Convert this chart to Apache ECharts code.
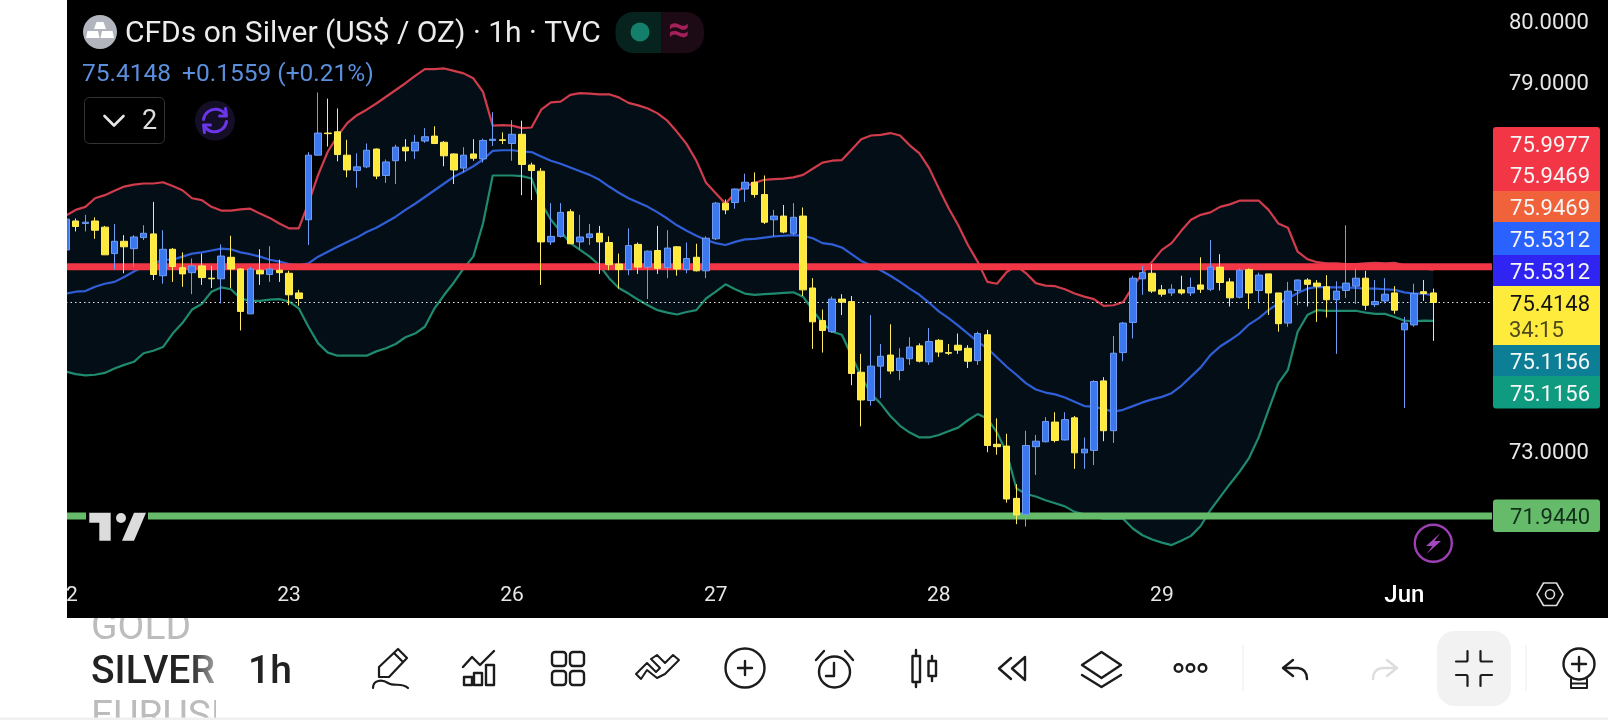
<!DOCTYPE html>
<html>
<head>
<meta charset="utf-8">
<title>CFDs on Silver</title>
<script src="https://cdn.jsdelivr.net/npm/echarts@6/dist/echarts.min.js"></script>
<style>html,body{margin:0;padding:0;background:#000}#chart{width:1608px;height:720px}</style>
</head>
<body>
<div id="chart"></div>
<script>
// Hourly silver candles
const opens = [
76.27,76.74,76.70,76.74,76.64,76.21,76.41,76.29,76.47,76.53,
75.85,76.28,75.98,75.90,76.01,75.81,75.80,76.15,75.96,75.23,
75.94,75.87,75.94,75.89,75.57,76.76,77.81,78.17,78.19,77.81,
77.56,77.62,77.91,77.48,77.72,77.94,77.88,78.04,78.12,78.02,
77.83,77.60,77.83,77.75,78.05,78.06,78.00,78.15,77.65,77.55,
76.40,76.49,76.89,76.40,76.47,76.54,76.39,76.04,75.95,76.36,
75.99,76.26,75.98,76.32,75.95,76.15,75.93,76.45,77.03,77.04,
77.26,77.37,77.17,76.76,76.82,76.54,76.82,75.65,75.12,74.94,
75.47,75.43,74.28,73.82,74.38,74.56,74.31,74.50,74.71,74.45,
74.80,74.60,74.72,74.67,74.47,74.89,73.11,73.08,72.23,71.97,
73.07,73.15,73.47,73.18,73.54,72.97,73.01,74.14,73.33,74.60,
75.09,75.80,75.89,75.62,75.57,75.62,75.57,75.70,75.63,75.99,
75.75,75.50,75.95,75.61,75.88,75.57,75.08,75.61,75.78,75.73,
75.67,75.46,75.61,75.68,75.81,75.38,75.44,75.57,74.97,75.05,
75.59,75.57];
const closes = [
76.77,76.65,76.72,76.59,76.19,76.41,76.32,76.48,76.54,75.87,
76.28,76.00,75.88,76.01,75.82,75.80,76.17,75.96,75.27,75.96,
75.88,75.96,75.90,75.54,75.48,77.81,78.17,78.16,77.82,77.57,
77.62,77.89,77.47,77.70,77.94,77.88,78.02,78.11,78.00,77.80,
77.57,77.81,77.76,78.05,78.07,78.05,78.15,77.66,77.56,76.40,
76.49,76.88,76.37,76.48,76.53,76.40,76.03,75.95,76.34,75.99,
76.25,75.97,76.30,75.96,76.13,75.93,76.46,77.03,76.92,77.26,
77.37,77.17,76.72,76.82,76.56,76.80,75.62,75.10,74.96,75.47,
75.42,74.26,73.83,74.38,74.54,74.30,74.51,74.69,74.46,74.78,
74.61,74.59,74.64,74.46,74.91,73.09,73.07,72.22,71.96,73.09,
73.16,73.48,73.17,73.51,72.97,73.03,74.13,73.33,74.59,75.08,
75.81,75.90,75.60,75.55,75.63,75.57,75.66,75.63,75.99,75.74,
75.49,75.94,75.57,75.86,75.57,75.07,75.60,75.78,75.71,75.68,
75.46,75.60,75.73,75.81,75.37,75.43,75.55,75.29,75.08,75.56,
75.56,75.4148];
const lows = [
76.24,76.57,76.57,76.45,76.19,75.95,75.89,75.99,76.43,75.78,
75.72,75.75,75.67,75.55,75.70,75.65,75.40,75.65,74.96,75.23,
75.70,75.75,75.75,75.37,75.36,76.35,77.81,77.95,77.71,77.45,
77.28,77.60,77.42,77.36,77.34,77.71,77.75,78.01,77.99,77.63,
77.34,77.53,77.72,77.69,77.96,77.99,77.72,77.16,77.08,75.70,
76.35,76.47,76.37,76.28,76.35,75.88,75.94,75.64,75.86,75.88,
75.47,75.88,75.81,75.85,75.89,75.92,75.81,76.43,76.85,76.94,
77.05,77.12,76.69,76.49,76.54,76.51,75.52,74.66,74.60,74.92,
75.21,74.07,73.40,73.74,73.86,74.25,74.15,74.40,74.44,74.40,
74.53,74.56,74.58,74.35,74.40,72.98,72.94,72.16,71.81,71.77,
72.61,73.14,73.14,73.17,72.71,72.71,72.77,73.16,73.13,74.46,
74.83,75.54,75.57,75.51,75.52,75.54,75.52,75.57,75.60,75.61,
75.35,75.48,75.31,75.42,75.21,74.94,75.02,75.37,75.35,75.10,
75.17,74.58,75.49,75.39,75.29,75.34,75.40,75.23,73.70,75.02,
75.44,74.79];
const highs = [
76.80,76.78,76.84,76.80,76.66,76.69,76.51,76.51,76.67,77.05,
76.59,76.30,76.23,76.13,76.21,76.01,76.36,76.50,75.97,75.99,
76.28,76.33,76.11,75.93,75.62,77.86,78.83,78.73,78.57,78.06,
77.84,78.00,77.92,77.74,77.98,78.07,78.14,78.25,78.28,78.04,
77.84,77.94,78.07,78.08,78.51,78.18,78.38,78.37,77.69,77.60,
77.03,77.03,76.93,76.84,76.69,76.66,76.49,76.21,76.62,76.39,
76.26,76.66,76.59,76.33,76.39,76.37,76.49,77.05,77.09,77.27,
77.51,77.53,77.48,76.92,77.00,77.03,76.96,75.81,75.30,75.51,
75.55,75.52,74.58,75.21,74.74,75.06,74.67,74.85,74.75,75.00,
74.82,74.74,74.91,74.72,74.94,74.97,73.53,73.28,72.46,73.33,
73.26,73.55,73.63,73.63,73.57,73.22,74.15,74.20,74.87,75.10,
75.85,76.01,76.04,75.70,75.71,75.85,75.82,76.15,76.43,76.20,
75.81,75.97,75.97,75.90,75.88,75.57,75.75,75.79,75.81,75.78,
75.86,75.76,76.67,75.97,75.93,75.78,75.81,75.68,75.18,75.72,
75.78,75.64];

// Bollinger bands, one reading per candle
const bbUpper = [
76.83,76.92,76.97,77.11,77.16,77.23,77.30,77.33,77.35,77.35,
77.37,77.31,77.24,77.11,77.08,76.97,76.91,76.91,76.93,76.94,
76.86,76.79,76.70,76.62,76.62,77.03,77.49,77.87,78.12,78.33,
78.46,78.55,78.65,78.76,78.87,78.98,79.10,79.21,79.21,79.22,
79.18,79.14,79.06,78.84,78.29,78.30,78.29,78.25,78.26,78.55,
78.67,78.68,78.79,78.82,78.81,78.80,78.80,78.75,78.66,78.62,
78.57,78.49,78.37,78.19,77.99,77.72,77.36,77.19,77.02,77.20,
77.30,77.36,77.41,77.42,77.43,77.45,77.49,77.59,77.69,77.72,
77.73,77.90,78.07,78.13,78.14,78.17,78.13,77.97,77.84,77.60,
77.27,76.95,76.67,76.35,76.08,75.75,75.72,75.91,76.01,75.89,
75.73,75.69,75.68,75.63,75.56,75.51,75.47,75.36,75.37,75.42,
75.67,75.89,76.08,76.27,76.38,76.58,76.76,76.84,76.88,76.97,
77.01,77.07,77.07,77.07,76.92,76.70,76.63,76.24,76.12,76.07,
76.05,76.05,76.04,76.04,76.05,76.06,76.05,76.06,76.02,76.01,
75.97,75.9469];
const bbBasis = [
75.56,75.59,75.60,75.67,75.72,75.75,75.83,75.92,76.00,76.05,
76.11,76.11,76.16,76.21,76.23,76.26,76.29,76.28,76.23,76.20,
76.16,76.11,76.08,76.04,76.02,76.05,76.16,76.24,76.32,76.40,
76.47,76.56,76.63,76.72,76.81,76.92,77.02,77.13,77.24,77.35,
77.46,77.54,77.63,77.74,77.88,77.89,77.89,77.87,77.86,77.79,
77.72,77.67,77.61,77.55,77.49,77.41,77.30,77.20,77.11,77.04,
76.97,76.88,76.78,76.67,76.58,76.50,76.43,76.38,76.35,76.40,
76.44,76.45,76.47,76.49,76.50,76.51,76.50,76.46,76.38,76.36,
76.31,76.20,76.09,76.02,75.94,75.85,75.75,75.64,75.54,75.41,
75.27,75.16,75.04,74.91,74.78,74.67,74.52,74.37,74.24,74.10,
74.00,73.95,73.92,73.87,73.80,73.73,73.72,73.68,73.64,73.67,
73.73,73.79,73.84,73.88,73.94,74.06,74.21,74.36,74.56,74.70,
74.80,74.91,75.06,75.16,75.29,75.40,75.48,75.57,75.64,75.67,
75.66,75.66,75.66,75.65,75.64,75.64,75.63,75.62,75.58,75.56,
75.56,75.5312];
const bbLower = [
74.29,74.25,74.23,74.24,74.27,74.34,74.40,74.45,74.59,74.63,
74.69,74.91,75.08,75.30,75.39,75.59,75.66,75.63,75.48,75.44,
75.44,75.46,75.47,75.43,75.32,75.02,74.75,74.60,74.55,74.55,
74.55,74.55,74.62,74.67,74.74,74.85,74.91,75.02,75.32,75.54,
75.74,75.97,76.16,76.70,77.48,77.48,77.48,77.47,77.43,77.03,
76.76,76.57,76.38,76.27,76.16,76.02,75.81,75.65,75.56,75.46,
75.37,75.29,75.25,75.22,75.26,75.29,75.48,75.59,75.71,75.63,
75.56,75.54,75.55,75.56,75.57,75.58,75.51,75.29,75.08,74.94,
74.89,74.55,74.21,73.93,73.77,73.57,73.41,73.30,73.22,73.22,
73.26,73.32,73.38,73.50,73.60,73.53,73.30,72.97,72.39,72.30,
72.26,72.20,72.15,72.10,72.01,71.97,71.93,71.90,71.90,71.90,
71.74,71.63,71.56,71.51,71.47,71.54,71.62,71.78,72.04,72.25,
72.46,72.66,72.89,73.23,73.67,74.10,74.32,74.94,75.21,75.29,
75.28,75.28,75.28,75.28,75.25,75.23,75.23,75.18,75.12,75.11,
75.12,75.1156];

// Horizontal levels and last price
const resistanceLevel = 75.9977;
const supportLevel = 71.9440;
const lastPrice = 75.4148;

// Axis ticks
const yTickValues = [80, 79, 73];
const xTickValues = [0, 23, 46, 67, 90, 113, 138];
const xTickLabels = ['22', '23', '26', '27', '28', '29', 'Jun'];

// Price tags down the right edge, top to bottom
const tagTexts = ['75.9977', '75.9469', '75.9469', '75.5312', '75.5312', '75.4148', '75.1156', '75.1156'];
const countdownText = '34:15';
const supportTagText = '71.9440';

const FONT = 'Roboto';
const X_MIN = -0.928, X_MAX = 147.04;

// The graphic component has no generic path type, so each icon outline is registered as a shape
let shapeCount = 0;
function pathShape(d) {
  const name = 'iconPath' + (shapeCount++);
  echarts.graphic.registerShape(name, echarts.graphic.extendPath(d));
  return name;
}

function text(str, x, y, size, fill, extra) {
  return {
    type: 'text', x, y, z: 110,
    style: Object.assign({ text: str, fill, font: `${size}px ${FONT}`, textAlign: 'left', textVerticalAlign: 'middle' }, extra || {})
  };
}
function rect(x, y, w, h, fill, r, z) {
  return { type: 'rect', z: z || 105, shape: { x, y, width: w, height: h, r: r || 0 }, style: { fill } };
}
function stroke(d, color, width, x, y, z) {
  return {
    type: pathShape(d), x: x || 0, y: y || 0, z: z || 110,
    style: { fill: 'none', stroke: color, lineWidth: width || 2.4, lineJoin: 'round', lineCap: 'round' }
  };
}
function solid(d, color, z) {
  return { type: pathShape(d), z: z || 110, style: { fill: color } };
}
function ring(cx, cy, r, color, width, fill, z) {
  return { type: 'circle', z: z || 110, shape: { cx, cy, r }, style: { fill: fill || 'none', stroke: color, lineWidth: width || 0 } };
}

const INK = '#1c1c1c';
const elements = [
  // Page margin and bottom toolbar background
  rect(0, 0, 67, 720, '#ffffff', 0, 100),
  rect(0, 618, 1608, 102, '#ffffff', 0, 100),

  // Symbol picker
  text('GOLD', 91, 629, 39, '#bcbcbc', { font: `400 39px ${FONT}` }),
  text('EURUSD', 91, 718, 39, '#bcbcbc', { font: `400 39px ${FONT}` }),
  rect(80, 590, 160, 28, '#000000', 0, 111),
  rect(216, 618, 28, 100, '#ffffff', 0, 111),
  rect(0, 717.6, 1608, 2.4, '#f0f0f0', 0, 111),
  text('SILVER', 91, 673, 39, '#222222', { font: `500 39px ${FONT}` }),
  {
    type: 'rect', z: 112, shape: { x: 190, y: 640, width: 26, height: 56 },
    style: { fill: { type: 'linear', x: 0, y: 0, x2: 1, y2: 0, colorStops: [{ offset: 0, color: 'rgba(255,255,255,0)' }, { offset: 1, color: 'rgba(255,255,255,0.6)' }] } }
  },
  text('1h', 248, 673, 39, '#222222', { font: `500 39px ${FONT}` }),

  // Toolbar icons
  stroke('M379 677 L379 667 L398 649 L407 658 L389 677 Z M394 653 L403 662', INK, 2.2),
  stroke('M373 688 C373 680 382 679 388 683 C394 687 402 682 408 688', INK, 2.2),
  stroke('M463 667 L472 657 L480 665 L494 651', INK, 2.4),
  stroke('M464 677 H472 V685 H464 Z M474 673 H482 V685 H474 Z M486 665 H494 V685 H486 Z', INK, 2.4),
  ...[[552, 652], [570, 652], [552, 671], [570, 671]].map(([x, y]) => ({
    type: 'rect', z: 110, shape: { x, y, width: 14, height: 14, r: 3 }, style: { fill: 'none', stroke: INK, lineWidth: 2.4 }
  })),
  stroke('M636 674 L647 663 L656 672 L660 668 L651 659 L657 655 L665 663 L673 655 L679 660 L665 674 L657 678 L647 670 L641 679 Z', INK, 2),
  ring(745, 668, 19.5, INK, 2.4),
  stroke('M738 668 H752 M745 661 V675', INK, 2.4),
  ring(834.5, 672, 15.5, INK, 2.4),
  stroke('M834 663 V676 H826 M816 660 L824 651 M853 660 L845 651', INK, 2.4),
  stroke('M912.5 656 H920 V682 H912.5 Z M916 650 V656 M916 682 V687 M928.5 661 H936 V676 H928.5 Z M932 656 V661 M932 676 V681', INK, 2.4),
  stroke('M1011 658 L999 668.5 L1011 679 M1025 657 L1012 668.5 L1025 680 Z', INK, 2.4),
  stroke('M1101.5 652 L1121 665 L1101.5 678 L1082 665 Z M1082 675 L1101.5 687 L1121 675', INK, 2.4),
  ring(1178.5, 668, 3.8, INK, 2.4),
  ring(1190.5, 668, 3.8, INK, 2.4),
  ring(1202.5, 668, 3.8, INK, 2.4),
  rect(1242.5, 645, 1, 46, '#eeeeee', 0, 110),
  stroke('M1293 660 L1283 668 L1293 676 M1283 668 H1298 Q1307 669 1307 679', INK, 2.4),
  stroke('M1387 660 L1397 668 L1387 676 M1397 668 H1382 Q1373 669 1373 679', '#dddddd', 2.4),
  rect(1437, 631, 74, 75, '#f2f2f2', 18, 106),
  stroke('M1456 661.5 H1466 Q1467.5 661.5 1467.5 660 V651 M1492 661.5 H1482 Q1480.5 661.5 1480.5 660 V651 M1456 675 H1466 Q1467.5 675 1467.5 676.5 V686 M1492 675 H1482 Q1480.5 675 1480.5 676.5 V686', INK, 2.2),
  rect(1525.5, 645, 1, 46, '#eeeeee', 0, 110),
  ring(1579, 664, 15.5, INK, 2.4),
  stroke('M1572 664 H1586 M1579 657 V671', INK, 2.4),
  stroke('M1571 679 V688 H1587 V679 M1571 683.5 H1587', INK, 2),

  // Symbol logo beside the title
  ring(100, 32, 17, null, 0, '#b2b5be'),
  solid('M96.5 22 H103.5 L106 29 H94 Z M87.5 31 H98 L99.5 38 H86 Z M102 31 H112.5 L114 38 H100.5 Z', '#ffffff'),

  // Market status pill
  { type: 'rect', z: 110, shape: { x: 615.5, y: 12, width: 46, height: 41, r: [18, 0, 0, 18] }, style: { fill: '#06231d' } },
  { type: 'rect', z: 110, shape: { x: 661.5, y: 12, width: 42.5, height: 41, r: [0, 18, 18, 0] }, style: { fill: '#1c0a14' } },
  ring(640, 32, 9.5, null, 0, '#14806c'),
  text('\u2248', 668, 32, 38, '#a3205a', { font: `700 38px ${FONT}` }),

  // Last quote
  text('75.4148', 82, 75, 24.5, '#5b8fdc'),
  text('+0.1559 (+0.21%)', 182, 75, 24.5, '#5b8fdc'),

  // Indicator collapse button
  { type: 'rect', z: 110, shape: { x: 84.5, y: 97.5, width: 80, height: 46, r: 5 }, style: { fill: '#000', stroke: '#333333', lineWidth: 1 } },
  stroke('M104.5 116 L114 125.5 L123.5 116', '#e6e6e6', 2.6),
  text('2', 142, 122, 27, '#dddddd'),

  // Refresh badge
  ring(215, 120.5, 20, null, 0, '#140f26'),
  stroke('M-11.5 -1 A12 12 0 0 1 10 -6.5 M11.5 1 A12 12 0 0 1 -10 6.5', '#6a37e8', 3, 215, 120.5),
  stroke('M10.5 -12 L11.5 -4.5 L4.5 -4.5 M-10.5 12 L-11.5 4.5 L-4.5 4.5', '#6a37e8', 3, 215, 120.5),

  // Watermark, cut out of the support line
  rect(86, 509, 62, 34, '#000000', 0, 106),
  solid('M89.3 512.7 H110.7 V540.7 H99.3 V522.7 H89.3 Z M134 512.7 H146 L134 540.7 H122 Z', '#dcdcdc'),
  ring(121, 518, 5, null, 0, '#dcdcdc'),

  // Lightning and settings icons
  ring(1433.3, 543.3, 18.5, '#9c3fb3', 2.4),
  solid('M1440.5 533 L1426 546 L1432.5 546 L1426.5 554 L1441 541 L1434.5 541 Z', '#a347bd'),
  stroke('M1537 594.3 L1543.5 583 H1556.5 L1563 594.3 L1556.5 605.5 H1543.5 Z', '#dddddd', 1.6),
  ring(1550, 594.3, 4.5, '#dddddd', 1.6),

  // Price tags
  { type: 'rect', z: 105, shape: { x: 1493, y: 127, width: 107, height: 64, r: [3, 3, 0, 0] }, style: { fill: '#f23645' } },
  rect(1493, 191, 107, 31, '#f0623a', 0),
  rect(1493, 222, 107, 33, '#2962ff', 0),
  rect(1493, 255, 107, 31, '#3024f2', 0),
  rect(1493, 286, 107, 59, '#ffeb3b', 0),
  rect(1493, 345, 107, 31, '#0c7f96', 0),
  { type: 'rect', z: 105, shape: { x: 1493, y: 376, width: 107, height: 32.5, r: [0, 0, 3, 3] }, style: { fill: '#0f9b7f' } },
  rect(1493, 499.5, 107, 32.5, '#66bb6a', 3),
  ...tagTexts.map((t, i) => text(t, 1590, [146.5, 177.5, 209.5, 241.5, 273.5, 305, 363.5, 395.5][i], 22, i === 5 ? '#131313' : '#f6f6f6', { textAlign: 'right' })),
  text(countdownText, 1509, 331, 22, '#4f4a1b'),
  text(supportTagText, 1590, 518, 22, '#10301a', { textAlign: 'right' })
];

const chart = echarts.init(document.getElementById('chart'), null, { renderer: 'canvas' });
chart.setOption({
  animation: false,
  backgroundColor: '#000000',
  title: {
    text: 'CFDs on Silver (US$ / OZ) \u00b7 1h \u00b7 TVC',
    left: 120, top: 14,
    textStyle: { color: '#ececec', fontFamily: FONT, fontSize: 30, fontWeight: 'normal' }
  },
  grid: { left: 57, width: 1435, top: 20.5, height: 553.5 },
  xAxis: {
    type: 'value', min: X_MIN, max: X_MAX,
    axisLine: { show: false }, axisTick: { show: false }, splitLine: { show: false },
    axisLabel: {
      customValues: xTickValues,
      formatter: v => {
        const s = xTickLabels[xTickValues.indexOf(v)];
        return s === 'Jun' ? `{m|${s}}` : s;
      },
      margin: 11, color: '#e6e6e6', fontFamily: FONT, fontSize: 21,
      rich: { m: { color: '#ffffff', fontFamily: FONT, fontSize: 24, fontWeight: 500, lineHeight: 21 } },
      hideOverlap: false
    }
  },
  yAxis: {
    type: 'value', position: 'right', min: 71, max: 80, interval: 1,
    axisLine: { show: false }, axisTick: { show: false }, splitLine: { show: false },
    axisLabel: {
      customValues: yTickValues,
      formatter: v => `{p|${v.toFixed(4)}}`,
      margin: 17,
      rich: { p: { color: '#e6e6e6', fontFamily: FONT, fontSize: 22, lineHeight: 22, padding: [5, 0, 0, 0] } }
    }
  },
  series: [
    {
      // Shaded channel between the outer bands
      type: 'custom', z: 1, silent: true,
      data: bbUpper.map((u, i) => [i, u, bbLower[i]]),
      encode: { x: 0, y: [1, 2] },
      renderItem: (params, api) => {
        if (params.dataIndex !== 0) return;
        const top = bbUpper.map((u, i) => api.coord([i, u]));
        const bottom = bbLower.map((l, i) => api.coord([i, l])).reverse();
        return { type: 'polygon', shape: { points: top.concat(bottom) }, style: { fill: '#040e16' } };
      }
    },
    { type: 'line', z: 2, silent: true, showSymbol: false, data: bbUpper.map((v, i) => [i, v]), lineStyle: { color: '#d03c4c', width: 2.2 } },
    { type: 'line', z: 2, silent: true, showSymbol: false, data: bbBasis.map((v, i) => [i, v]), lineStyle: { color: '#2f5ed6', width: 2.2 } },
    { type: 'line', z: 2, silent: true, showSymbol: false, data: bbLower.map((v, i) => [i, v]), lineStyle: { color: '#1f8a6e', width: 2.2 } },
    { type: 'line', z: 3, silent: true, showSymbol: false, data: [[X_MIN, lastPrice], [X_MAX, lastPrice]], lineStyle: { color: '#e8e8e8', width: 1, type: [1.5, 3] } },
    { type: 'line', z: 3, silent: true, showSymbol: false, data: [[X_MIN, resistanceLevel], [X_MAX, resistanceLevel]], lineStyle: { color: '#f23645', width: 7 } },
    { type: 'line', z: 3, silent: true, showSymbol: false, data: [[X_MIN, supportLevel], [X_MAX, supportLevel]], lineStyle: { color: '#66bb6a', width: 7 } },
    {
      type: 'candlestick', z: 4, silent: true, barWidth: 7,
      data: opens.map((o, i) => [i, o, closes[i], lows[i], highs[i]]),
      itemStyle: { color: '#3b78f0', color0: '#ffe93b', borderColor: '#6f9df5', borderColor0: '#ffed5e', borderWidth: 1 }
    }
  ],
  graphic: { elements }
});
</script>
</body>
</html>
